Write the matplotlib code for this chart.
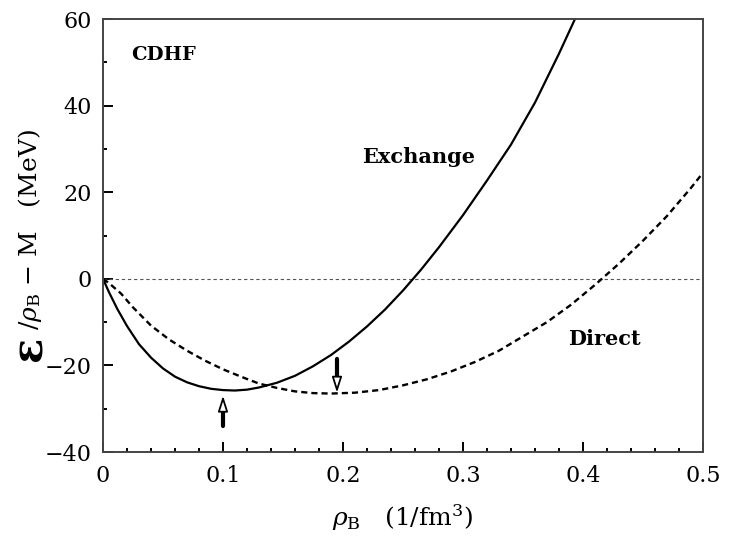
import numpy as np
import matplotlib.pyplot as plt

# values
rho_exchange = [0, 0.005, 0.012, 0.02, 0.03, 0.04, 0.05, 0.06, 0.07, 0.08, 0.09,
                0.1, 0.11, 0.12, 0.13, 0.145, 0.16, 0.175, 0.19, 0.205, 0.22,
                0.235, 0.25, 0.265, 0.28, 0.3, 0.32, 0.34, 0.36, 0.38, 0.395]
e_exchange = [0, -3.1, -7.0, -10.9, -15.1, -18.2, -20.7, -22.6, -23.9, -24.8, -25.4,
              -25.7, -25.8, -25.6, -25.1, -24.0, -22.4, -20.2, -17.6, -14.5, -11.0,
              -7.1, -2.7, 2.1, 7.3, 14.7, 22.7, 31.0, 40.7, 52.0, 61.0]

rho_direct = [0, 0.005, 0.015, 0.025, 0.04, 0.055, 0.07, 0.085, 0.1, 0.115, 0.13,
              0.145, 0.16, 0.175, 0.19, 0.21, 0.23, 0.25, 0.27, 0.29, 0.31, 0.33,
              0.35, 0.37, 0.39, 0.41, 0.43, 0.45, 0.47, 0.49, 0.5]
e_direct = [0, -1.0, -3.4, -6.6, -10.8, -14.0, -16.6, -18.9, -20.9, -22.6, -24.2,
            -25.2, -26.0, -26.4, -26.5, -26.3, -25.7, -24.6, -23.2, -21.4, -19.2,
            -16.6, -13.3, -10.0, -6.0, -1.4, 3.5, 8.8, 14.5, 21.0, 24.5]

# saturation markers (x, tail y, tip y)
arrow_exchange = (0.1, -34.0, -27.0)
arrow_direct = (0.195, -18.5, -26.3)

x_ticks = [0, 0.1, 0.2, 0.3, 0.4, 0.5]
x_ticklabels = ['0', '0.1', '0.2', '0.3', '0.4', '0.5']
y_ticks = [-40, -20, 0, 20, 40, 60]

plt.rcParams['font.family'] = 'DejaVu Serif'
plt.rcParams['mathtext.fontset'] = 'dejavuserif'

fig = plt.figure(figsize=(7.29, 5.39), dpi=100)
ax = fig.add_axes([0.1413, 0.1614, 0.823, 0.8033])

ax.axhline(0, color='#555555', lw=0.8, dashes=(3, 2.5))
ax.plot(rho_exchange, e_exchange, color='black', lw=1.6)
ax.plot(rho_direct, e_direct, color='black', lw=1.7, dashes=(2.6, 1.7))


def marker_arrow(x, y_tail, y_tip):
    head = 3.0 if y_tip > y_tail else -3.0
    y_base = y_tip - head
    ax.annotate('', xy=(x, y_base), xytext=(x, y_tail),
                arrowprops=dict(arrowstyle='-', lw=3, color='black',
                                shrinkA=0, shrinkB=0))
    ax.annotate('', xy=(x, y_tip), xytext=(x, y_base),
                arrowprops=dict(arrowstyle='-|>,head_width=0.3,head_length=0.94',
                                lw=1.3, fc='white', ec='black',
                                shrinkA=0, shrinkB=0))


marker_arrow(*arrow_exchange)
marker_arrow(*arrow_direct)

ax.text(0.05, 51.6, 'CDHF', fontsize=14, fontweight='bold', ha='center', va='center')
ax.text(0.263, 28.2, 'Exchange', fontsize=15, fontweight='bold', ha='center', va='center')
ax.text(0.418, -14.0, 'Direct', fontsize=15, fontweight='bold', ha='center', va='center')

ax.set_xlim(0, 0.5)
ax.set_ylim(-40, 60)
ax.set_xticks(x_ticks)
ax.set_xticklabels(x_ticklabels)
ax.set_yticks(y_ticks)
ax.set_xticks(np.arange(0, 0.501, 0.02), minor=True)
ax.set_yticks(np.arange(-40, 61, 10), minor=True)
ax.tick_params(which='both', direction='in', top=False, right=False,
               width=1.4, colors='black', labelsize=16)
ax.tick_params(which='major', length=7)
ax.tick_params(which='minor', length=3)
ax.tick_params(axis='x', pad=9)
ax.tick_params(axis='y', pad=8)
for s in ax.spines.values():
    s.set_color('#444444')
    s.set_linewidth(1.4)

# axis labels
fig.text(403 / 729, 1 - 518 / 539, r'$\rho_{\rm B}$   (1/fm$^3$)', fontsize=18,
         ha='center', va='center')
fig.text(30 / 729, 1 - 348 / 539, 'ε', fontsize=30, fontweight='bold',
         rotation=90, ha='center', va='center')
fig.text(30 / 729, 1 - 330 / 539, r'/$\rho_{\rm B}$ − M   (MeV)', fontsize=18,
         rotation=90, ha='center', va='bottom')

fig.savefig('out.png', dpi=100)
